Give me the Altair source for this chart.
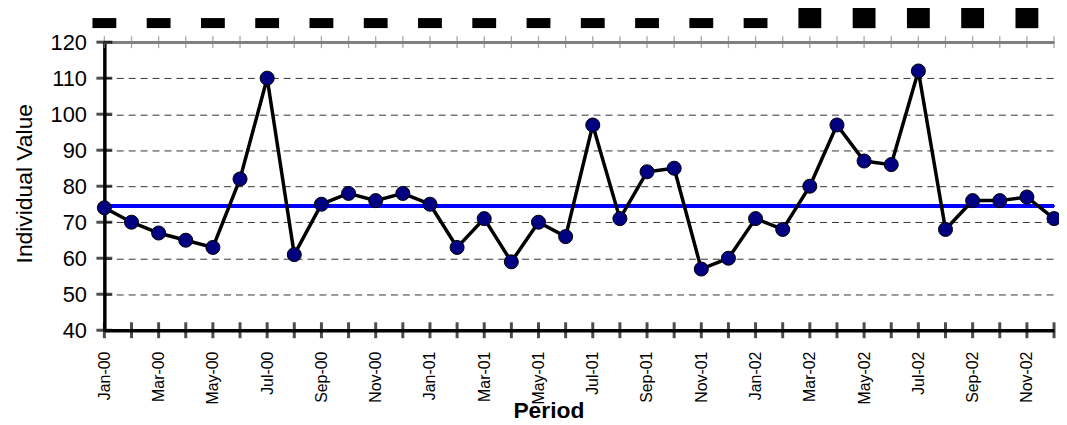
import altair as alt
import pandas as pd

months = ["Jan-00", "Feb-00", "Mar-00", "Apr-00", "May-00", "Jun-00",
          "Jul-00", "Aug-00", "Sep-00", "Oct-00", "Nov-00", "Dec-00",
          "Jan-01", "Feb-01", "Mar-01", "Apr-01", "May-01", "Jun-01",
          "Jul-01", "Aug-01", "Sep-01", "Oct-01", "Nov-01", "Dec-01",
          "Jan-02", "Feb-02", "Mar-02", "Apr-02", "May-02", "Jun-02",
          "Jul-02", "Aug-02", "Sep-02", "Oct-02", "Nov-02", "Dec-02"]
values = [74, 70, 67, 65, 63, 82, 110, 61, 75, 78, 76, 78,
          75, 63, 71, 59, 70, 66, 97, 71, 84, 85, 57, 60,
          71, 68, 80, 97, 87, 86, 112, 68, 76, 76, 77, 71]
mean_value = 74.5
y_ticks = [40, 50, 60, 70, 80, 90, 100, 110, 120]
label_months = months[0::2]
dash_months = ["Jan-00", "Mar-00", "May-00", "Jul-00", "Sep-00", "Nov-00",
               "Jan-01", "Mar-01", "May-01", "Jul-01", "Sep-01", "Nov-01",
               "Jan-02"]
square_months = ["Mar-02", "May-02", "Jul-02", "Sep-02", "Nov-02"]

df = pd.DataFrame({"month": months, "value": values})
df_months = pd.DataFrame({"month": months})
df_yticks = pd.DataFrame({"value": y_ticks, "month": [months[0]] * len(y_ticks)})
df_dash = pd.DataFrame({"month": dash_months})
df_square = pd.DataFrame({"month": square_months})

FONT = "Liberation Sans"

x_scale = alt.Scale(type="point", padding=0, domain=months)
x_axis = alt.Axis(
    values=label_months, labelAngle=270, labelFontSize=16,
    labelColor="black", labelPadding=21, ticks=False, tickSize=0,
    domainColor="black", domainWidth=3.5, grid=False, zindex=0,
    title="Period", titleFontSize=23, titleFontWeight="bold",
    titleColor="black", titleX=447, titleY=88,
    titleBaseline="alphabetic", titleAlign="center",
)
x_enc = alt.X("month:N", sort=months, scale=x_scale, axis=x_axis)

y_scale = alt.Scale(domain=[40, 120], nice=False, zero=False)
y_axis = alt.Axis(
    values=y_ticks, labelFontSize=22, labelColor="black", labelPadding=18,
    ticks=False, tickSize=0, domainColor="black", domainWidth=3.5,
    grid=True, gridColor="#333333", gridDash=[7, 5], gridWidth=1, zindex=0,
    title="Individual Value", titleFontSize=23, titleFontWeight="normal",
    titleColor="black", titleAngle=270, titleX=-80, titleY=142,
    titleAlign="center", titleBaseline="middle",
)


def yq(field="value"):
    return alt.Y(f"{field}:Q", scale=y_scale, axis=y_axis)


def yd(v):
    return alt.Y(datum=v, type="quantitative", scale=y_scale, axis=y_axis)


top_line = alt.Chart(df_months).mark_rule(color="#808080", strokeWidth=2).encode(
    y=yd(120)
)
top_ticks = alt.Chart(df_months).mark_tick(
    orient="vertical", color="#808080", size=12, thickness=1.3
).encode(x=x_enc, y=yd(120))

bottom_ticks = alt.Chart(df_months).mark_tick(
    orient="vertical", color="black", size=16, thickness=3
).encode(x=x_enc, y=yd(40))

left_ticks = alt.Chart(df_yticks).mark_tick(
    orient="horizontal", color="black", size=16, thickness=3
).encode(x=x_enc, y=yq())

mean_line = alt.Chart(df_months).mark_rule(color="#0000FF", strokeWidth=3).encode(
    y=yd(mean_value)
)

line = alt.Chart(df).mark_line(color="black", strokeWidth=3.5).encode(
    x=x_enc, y=yq()
)
points = alt.Chart(df).mark_point(
    filled=True, fill="#000080", stroke="black", strokeWidth=1,
    size=200, opacity=1
).encode(x=x_enc, y=yq())

dashes = alt.Chart(df_dash).mark_point(
    shape="M-1,-0.42H1V0.42H-1Z", filled=True, fill="black", strokeWidth=0,
    size=576, opacity=1, clip=False
).encode(x=x_enc, y=yd(125.3))

squares = alt.Chart(df_square).mark_point(
    shape="M-1,-0.95H1V0.95H-1Z", filled=True, fill="black", strokeWidth=0,
    size=529, opacity=1, clip=False
).encode(x=x_enc, y=yd(126.9))

chart = alt.layer(
    top_line, top_ticks, mean_line, line, points, bottom_ticks, left_ticks,
    dashes, squares
).properties(
    width=956, height=290,
    autosize=alt.AutoSizeParams(type="none"),
    padding={"left": 97, "top": 33, "right": 5, "bottom": 95},
).configure(font=FONT).configure_view(stroke=None)

chart.save("out.html", embed_options={"renderer": "svg", "actions": False})
